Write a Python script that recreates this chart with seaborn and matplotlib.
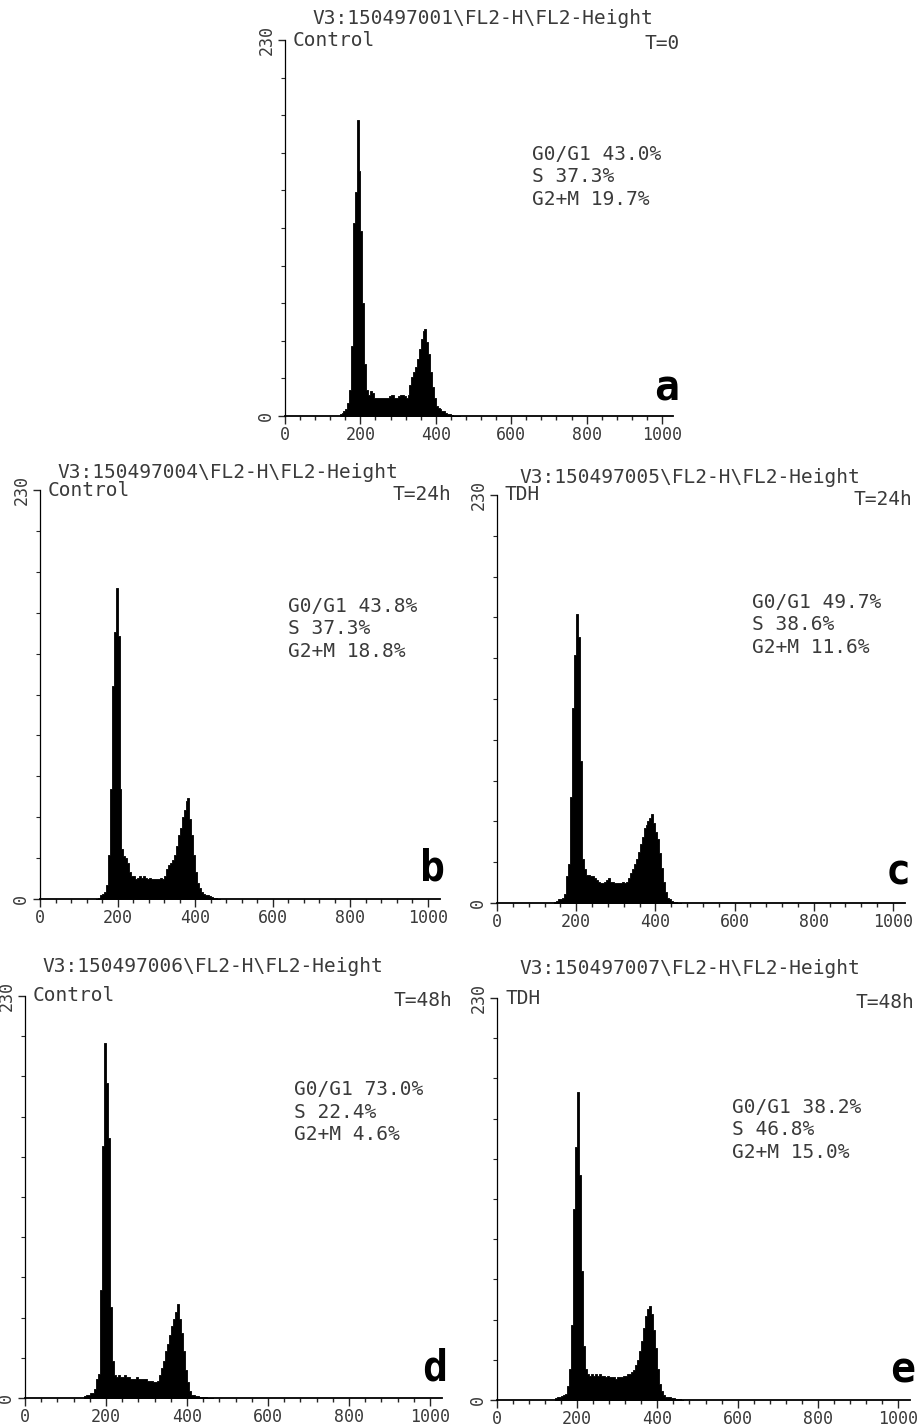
import numpy as np
import pandas as pd
import matplotlib
matplotlib.use("Agg")
import matplotlib.pyplot as plt
from matplotlib.ticker import MultipleLocator
import seaborn as sns

# ---------------------------------------------------------------------------
# Data: cell counts per 5-channel bin (FL2-H), bins start at 145
# ---------------------------------------------------------------------------
BIN_START = 145
BIN_WIDTH = 5

COUNTS_A = [1, 2, 3, 4, 8, 16, 43, 118,
            137, 181, 150, 113, 69, 32, 16, 13,
            15, 14, 11, 11, 11, 11, 11, 11,
            11, 11, 12, 13, 13, 11, 11, 12,
            13, 13, 12, 11, 13, 19, 24, 27,
            30, 35, 41, 47, 52, 53, 45, 38,
            27, 18, 11, 6, 5, 4, 3, 3,
            2, 1, 1, 0.5, 0.3, 0, 0, 0]

COUNTS_B = [0, 0.5, 2, 3, 4, 8, 25, 62,
            120, 150, 175, 148, 62, 28, 24, 23,
            20, 15, 13, 13, 11, 12, 13, 12,
            13, 12, 11, 12, 11, 11, 11, 11,
            11, 12, 11, 13, 17, 19, 20, 22,
            25, 30, 36, 40, 46, 50, 55, 57,
            45, 36, 25, 15, 9, 6, 4, 3,
            2, 2, 1.5, 1, 0.5, 0.5, 0, 0]

COUNTS_C = [0.5, 1, 2, 2, 3, 5, 15, 22,
            60, 110, 140, 163, 150, 80, 25, 19,
            16, 16, 15, 15, 14, 13, 12, 11,
            11, 12, 13, 14, 12, 12, 11, 11,
            11, 11, 12, 11, 12, 14, 17, 19,
            22, 25, 29, 33, 37, 42, 44, 46,
            48, 50, 45, 40, 36, 28, 20, 12,
            6, 3, 2, 1, 0.5, 0.3, 0, 0]

COUNTS_D = [1, 2, 2, 3, 3, 5, 11, 14,
            62, 144, 203, 180, 149, 52, 21, 13,
            12, 13, 12, 12, 13, 12, 12, 11,
            11, 11, 12, 11, 11, 11, 11, 10,
            10, 10, 9, 9, 10, 13, 17, 21,
            27, 31, 36, 41, 45, 49, 54, 45,
            37, 27, 16, 9, 4, 2, 1.5, 1,
            1, 0.8, 0.5, 0.5, 0.3, 0, 0, 0]

COUNTS_E = [1, 1.5, 2, 2.5, 3, 3.5, 8, 18,
            43, 109, 145, 176, 129, 74, 31, 18,
            15, 14, 15, 14, 15, 14, 15, 14,
            14, 13, 14, 13, 13, 13, 12, 13,
            13, 13, 14, 14, 15, 15, 16, 17,
            20, 23, 28, 34, 41, 48, 52, 54,
            49, 40, 30, 18, 9, 5, 3, 2,
            2, 1.5, 1, 1, 0.8, 0.5, 0.3, 0]

PANELS   = ["a", "b", "c", "d", "e"]
COUNTS   = [COUNTS_A, COUNTS_B, COUNTS_C, COUNTS_D, COUNTS_E]
FILE_IDS = ["150497001", "150497004", "150497005", "150497006", "150497007"]
GROUPS   = ["Control", "Control", "TDH", "Control", "TDH"]
TIMES    = ["T=0", "T=24h", "T=24h", "T=48h", "T=48h"]
G0G1     = ["43.0%", "43.8%", "49.7%", "73.0%", "38.2%"]
S_PHASE  = ["37.3%", "37.3%", "38.6%", "22.4%", "46.8%"]
G2M      = ["19.7%", "18.8%", "11.6%", "4.6%", "15.0%"]

Y_MAX = 230

# ---------------------------------------------------------------------------
# Layout (pixels): x of channel 0, x of channel 1000, baseline y, top y
# ---------------------------------------------------------------------------
W, H = 921, 1426
AXES_PX = {
    "a": (285, 662, 416, 40),
    "b": (40, 428, 899, 490),
    "c": (497, 893, 903, 495),
    "d": (25, 430, 1398, 996),
    "e": (497, 898, 1400, 998),
}
TITLE_PX = {
    "a": (483, 18), "b": (228, 472), "c": (690, 477),
    "d": (213, 966), "e": (690, 969),
}
STATS_XY = {   # data coords, top of first line
    "a": (655, 166), "b": (638, 170), "c": (644, 175),
    "d": (663, 182), "e": (586, 173),
}
TIME_X = {"a": 1048, "b": 1060, "c": 1048, "d": 1055, "e": 1040}
TEXT_COLOR = "#3a3a3a"


def draw_panel(fig, i):
    key = PANELS[i]
    x0, x1, base, top = AXES_PX[key]
    ax = fig.add_axes([x0 / W, 1 - base / H,
                       (x1 - x0) * 1.03 / W, (base - top) / H])

    n = len(COUNTS[i])
    edges = BIN_START + BIN_WIDTH * np.arange(n + 1)
    df = pd.DataFrame({"channel": edges[:-1] + BIN_WIDTH / 2,
                       "count": COUNTS[i]})
    sns.histplot(data=df, x="channel", weights="count", bins=list(edges),
                 element="step", fill=True, color="black", alpha=1.0,
                 linewidth=0.6, ax=ax)

    ax.set_xlim(0, 1030)
    ax.set_ylim(0, Y_MAX)
    ax.set_xlabel(""); ax.set_ylabel("")
    ax.set_facecolor("none")

    for side in ["top", "right"]:
        ax.spines[side].set_visible(False)
    ax.spines["left"].set_linewidth(0.9)
    ax.spines["bottom"].set_linewidth(1.3)
    ax.spines["left"].set_color("black")
    ax.spines["bottom"].set_color("black")

    ax.set_xticks(range(0, 1001, 200))
    ax.set_xticklabels([str(v) for v in range(0, 1001, 200)],
                       fontsize=12, color=TEXT_COLOR)
    ax.xaxis.set_minor_locator(MultipleLocator(40))
    ax.tick_params(axis="x", which="major", length=6, width=1, pad=1,
                   bottom=True)
    ax.tick_params(axis="x", which="minor", length=3, width=1, bottom=True)

    ax.set_yticks([0, Y_MAX])
    ax.set_yticklabels(["0", str(Y_MAX)], rotation=90, va="center",
                       fontsize=12, color=TEXT_COLOR)
    ax.yaxis.set_minor_locator(MultipleLocator(23))
    ax.tick_params(axis="y", which="major", length=5, width=1, pad=2,
                   left=True)
    ax.tick_params(axis="y", which="minor", length=3, width=0.8, left=True)

    ax.text(20, Y_MAX, GROUPS[i], ha="left", va="center",
            fontsize=14, color=TEXT_COLOR)
    ax.text(TIME_X[key], Y_MAX * 0.99, TIMES[i], ha="right", va="center",
            fontsize=14, color=TEXT_COLOR)

    sx, sy = STATS_XY[key]
    stats = f"G0/G1 {G0G1[i]}\nS {S_PHASE[i]}\nG2+M {G2M[i]}"
    ax.text(sx, sy, stats, ha="left", va="top", linespacing=1.25,
            fontsize=14, color=TEXT_COLOR)

    ax.text(1012, 17, key, ha="center", va="center", fontsize=30,
            fontweight="bold", color="black")

    tx, ty = TITLE_PX[key]
    fig.text(tx / W, 1 - ty / H, f"V3:{FILE_IDS[i]}\\FL2-H\\FL2-Height",
             ha="center", va="center", fontsize=14, color=TEXT_COLOR)


def main():
    sns.set_theme(style="white")
    plt.rcParams["font.family"] = ["DejaVu Sans Mono"]
    plt.rcParams["axes.unicode_minus"] = False

    fig = plt.figure(figsize=(W / 100, H / 100), dpi=100)
    fig.patch.set_facecolor("white")
    for i in range(len(PANELS)):
        draw_panel(fig, i)
    fig.savefig("out.png", dpi=100, facecolor="white")
    plt.close(fig)


if __name__ == "__main__":
    main()
